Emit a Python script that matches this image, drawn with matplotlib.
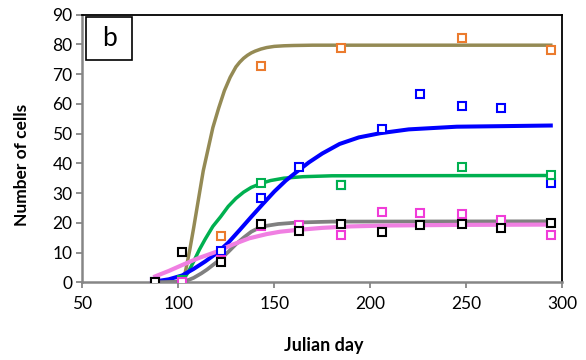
import matplotlib
matplotlib.use("Agg")
import matplotlib.pyplot as plt
from matplotlib.patches import Rectangle

# ---- observed data (Julian day, number of cells) ----
orange_days = [102, 122, 143, 185, 248, 294]
orange_vals = [0.0, 15.5, 72.7, 78.6, 82.0, 78.1]

green_days = [102, 143, 185, 248, 294]
green_vals = [0.8, 33.3, 32.7, 38.6, 36.1]

blue_days = [88, 102, 122, 143, 163, 185, 206, 226, 248, 268, 294]
blue_vals = [0.0, 0.5, 10.5, 28.5, 38.9, 32.7, 51.6, 63.4, 59.1, 58.7, 33.3]

pink_days = [88, 102, 122, 143, 163, 185, 206, 226, 248, 268, 294]
pink_vals = [0.0, 0.0, 7.6, 18.9, 19.2, 15.8, 23.7, 23.4, 22.9, 20.9, 15.8]

black_days = [88, 102, 122, 143, 163, 185, 206, 226, 248, 268, 294]
black_vals = [0.0, 10.2, 6.8, 19.5, 17.3, 19.5, 16.9, 19.2, 19.5, 18.1, 20.0]

# ---- fitted curves, points ----
olive_fit_days = [102.5, 104, 106, 108, 110, 113, 116, 118, 121, 124, 127, 130, 132, 134,
                  136, 138, 140, 143, 146, 150, 155, 160, 170, 180, 294]
olive_fit_vals = [0.0, 4.5, 11.0, 18.3, 26.0, 37.5, 46.2, 52.0, 58.5, 64.4, 68.9, 72.4,
                  74.0, 75.3, 76.3, 77.1, 77.7, 78.4, 78.9, 79.3, 79.5, 79.6, 79.7, 79.7,
                  79.7]

green_fit_days = [102, 105, 108, 111, 114, 118, 122, 126, 130, 134, 138, 143, 148, 155,
                  165, 180, 294]
green_fit_vals = [0.5, 3.2, 7.0, 11.0, 14.5, 18.8, 22.0, 25.5, 28.2, 30.3, 31.9, 33.2,
                  34.2, 35.0, 35.5, 35.8, 35.9]

blue_fit_days = [88, 95, 102, 108, 114, 120, 126, 132, 138, 144, 150, 156, 162, 168, 175,
                 184, 194, 205, 220, 245, 270, 294]
blue_fit_vals = [0.3, 1.0, 2.3, 4.5, 7.0, 9.8, 13.3, 17.6, 22.0, 26.3, 30.5, 34.2, 37.3,
                 40.3, 43.3, 46.5, 48.7, 50.1, 51.4, 52.3, 52.5, 52.7]

gray_fit_days = [88, 100, 105, 108, 112, 115, 118, 122, 126, 130, 134, 138, 142, 146,
                 152, 162, 180, 294]
gray_fit_vals = [0.0, 0.2, 0.7, 1.5, 3.0, 4.3, 5.8, 7.8, 10.2, 12.8, 15.0, 17.0, 18.3,
                 19.0, 19.6, 20.1, 20.4, 20.5]

pink_fit_days = [88, 95, 102, 110, 120, 128, 137, 146, 153, 162, 175, 190, 210, 247, 294]
pink_fit_vals = [2.0, 3.8, 5.8, 8.0, 10.3, 12.6, 14.8, 16.2, 17.0, 17.6, 18.3, 18.8,
                 19.1, 19.3, 19.4]

x_ticks = [50, 100, 150, 200, 250, 300]
y_ticks = [0, 10, 20, 30, 40, 50, 60, 70, 80, 90]
panel_label = "b"
x_label = "Julian day"
y_label = "Number of cells"

plt.rcParams['font.family'] = ['Lato', 'DejaVu Sans']

fig = plt.figure(figsize=(5.86, 3.60), dpi=100)
ax = fig.add_axes([82.3 / 586, 1 - 282.3 / 360, 480 / 586, (282.3 - 14.55) / 360])

# curves
ax.plot(olive_fit_days, olive_fit_vals, color='#948A54', lw=2.5, zorder=2,
        solid_joinstyle='round')
ax.plot(green_fit_days, green_fit_vals, color='#00B050', lw=2.5, zorder=2,
        solid_joinstyle='round')
ax.plot(blue_fit_days, blue_fit_vals, color='#0000FF', lw=2.9, zorder=2,
        solid_joinstyle='round')
ax.plot(gray_fit_days, gray_fit_vals, color='#808080', lw=2.7, zorder=2,
        solid_joinstyle='round')
ax.plot(pink_fit_days, pink_fit_vals, color='#F07FE2', lw=3.0, zorder=2,
        solid_joinstyle='round')

mk = dict(marker='s', ls='none', ms=6.2, mew=1.5, mfc='white', zorder=3)
ax.plot(orange_days, orange_vals, mec='#EB7B2E', **mk)
ax.plot(blue_days, blue_vals, mec='#0000FF', **mk)
ax.plot(green_days, green_vals, mec='#00B050', **mk)
ax.plot(pink_days, pink_vals, mec='#F03CD8', **mk)
ax.plot(black_days, black_vals, mec='#000000', **mk)

ax.set_xlim(50, 300)
ax.set_ylim(0, 90)
ax.set_xticks(x_ticks)
ax.set_yticks(y_ticks)
ax.tick_params(axis='both', direction='out', length=4, width=1.3, color='#868686',
               labelsize=12.5, labelcolor='black', pad=3)
ax.tick_params(axis='x', pad=6)

for s in ['left', 'bottom']:
    ax.spines[s].set_color('#868686')
    ax.spines[s].set_linewidth(1.8)
for s in ['top', 'right']:
    ax.spines[s].set_color('black')
    ax.spines[s].set_linewidth(1.3)

# panel label box
ax.add_patch(Rectangle((0.0077, 0.830), 0.0965, 0.160, transform=ax.transAxes,
                       fill=True, facecolor='white', edgecolor='black', lw=1.2,
                       zorder=5, clip_on=False))
ax.text(0.0077 + 0.0965 / 2, 0.830 + 0.080, panel_label, transform=ax.transAxes,
        ha='center', va='center', fontsize=19, zorder=6)

fig.text(324 / 586, 1 - 345 / 360, x_label, ha='center', va='center',
         fontsize=13, fontweight='bold')
fig.text(22 / 586, 1 - 165 / 360, y_label, ha='center', va='center',
         fontsize=12.5, fontweight='bold', rotation=90)

fig.savefig('out.png', dpi=100)
